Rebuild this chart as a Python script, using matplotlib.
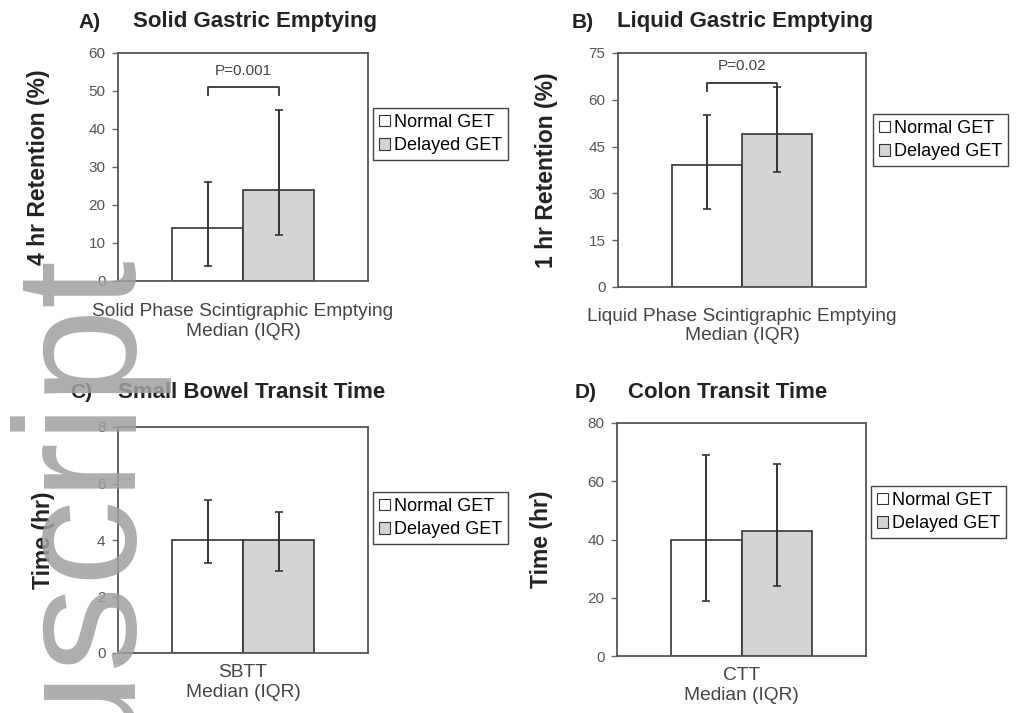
"""
Gastric emptying and transit times by GET group (4 panels).
"""

import matplotlib
matplotlib.use("Agg")
import matplotlib.pyplot as plt
from matplotlib.patches import Patch

plt.rcParams["font.family"] = ["Liberation Sans", "DejaVu Sans"]

groups = ["Normal GET", "Delayed GET"]
bar_colors = ["white", "#d4d4d4"]

# median, lower quartile, upper quartile for each group
solid_median = [14, 24]
solid_q1 = [4, 12]
solid_q3 = [26, 45]

liquid_median = [39, 49]
liquid_q1 = [25, 37]
liquid_q3 = [55, 64]

sbtt_median = [4.0, 4.0]
sbtt_q1 = [3.2, 2.9]
sbtt_q3 = [5.4, 5.0]

ctt_median = [40, 43]
ctt_q1 = [19, 24]
ctt_q3 = [69, 66]

panels = [
    dict(tag="A)", title="Solid Gastric Emptying", ylabel="4 hr Retention (%)",
         xcat="Solid Phase Scintigraphic Emptying\nMedian (IQR)",
         med=solid_median, q1=solid_q1, q3=solid_q3,
         yticks=[0, 10, 20, 30, 40, 50, 60], p="P=0.001", p_y=51, xpad=16),
    dict(tag="B)", title="Liquid Gastric Emptying", ylabel="1 hr Retention (%)",
         xcat="Liquid Phase Scintigraphic Emptying\nMedian (IQR)",
         med=liquid_median, q1=liquid_q1, q3=liquid_q3,
         yticks=[0, 15, 30, 45, 60, 75], p="P=0.02", p_y=65.5, xpad=15),
    dict(tag="C)", title="Small Bowel Transit Time", ylabel="Time (hr)",
         xcat="SBTT\nMedian (IQR)",
         med=sbtt_median, q1=sbtt_q1, q3=sbtt_q3,
         yticks=[0, 2, 4, 6, 8], p=None, p_y=None, xpad=8),
    dict(tag="D)", title="Colon Transit Time", ylabel="Time (hr)",
         xcat="CTT\nMedian (IQR)",
         med=ctt_median, q1=ctt_q1, q3=ctt_q3,
         yticks=[0, 20, 40, 60, 80], p=None, p_y=None, xpad=8),
]

W, H = 1016, 713
# pixel boxes: left, right, top, bottom
boxes = [(118, 368, 53, 281), (618, 866, 53, 287),
         (118, 368, 427, 653), (617, 866, 423, 656)]
tag_pos = [(78, 22), (572, 22), (70, 392), (575, 392)]
title_x = [133, 617, 118, 628]
ylab_x = [50, 558, 55, 553]
leg_pos = [(373, 134), (873, 140), (373, 518), (871, 512)]

fig = plt.figure(figsize=(W / 100, H / 100), dpi=100)
dark = "#333333"
width = 0.284
xs = [-width / 2, width / 2]

for i, pn in enumerate(panels):
    l, r, t, b = boxes[i]
    ax = fig.add_axes([l / W, 1 - b / H, (r - l) / W, (b - t) / H])
    ax.bar(xs, pn["med"], width=width, color=bar_colors,
           edgecolor=dark, linewidth=1.2, zorder=2)
    lo = [m - q for m, q in zip(pn["med"], pn["q1"])]
    hi = [q - m for m, q in zip(pn["med"], pn["q3"])]
    ax.errorbar(xs, pn["med"], yerr=[lo, hi], fmt="none", ecolor=dark,
                elinewidth=1.4, capsize=3, capthick=1.2, zorder=3)
    ax.set_xlim(-0.5, 0.5)
    ax.set_ylim(pn["yticks"][0], pn["yticks"][-1])
    ax.set_yticks(pn["yticks"])
    ax.set_xticks([0])
    ax.set_xticklabels([pn["xcat"]], fontsize=13.8, color="#444444")
    ax.tick_params(axis="x", length=0, pad=pn["xpad"])
    ax.tick_params(axis="y", length=4, width=1, color="#666666",
                   labelsize=11, labelcolor="#555555", pad=5)
    for sp in ax.spines.values():
        sp.set_color("#555555")
        sp.set_linewidth(1.3)
    ax.set_ylabel(pn["ylabel"], fontsize=16.5, fontweight="bold", color="#222222")
    ax.yaxis.set_label_coords((ylab_x[i] - l) / (r - l), 0.5)

    if pn["p"]:
        top = pn["yticks"][-1]
        y = pn["p_y"]
        leg = top * 0.035
        ax.plot([xs[0], xs[0], xs[1], xs[1]], [y - leg, y, y, y - leg],
                color=dark, lw=1.3, zorder=4)
        ax.text(0, y + top * 0.04, pn["p"], ha="center", va="bottom",
                fontsize=11, color="#444444")

    handles = [Patch(facecolor=c, edgecolor=dark, linewidth=0.8) for c in bar_colors]
    lx, ly = leg_pos[i]
    fig.legend(handles, groups, loc="center left",
               bbox_to_anchor=(lx / W, 1 - ly / H), fontsize=13,
               handlelength=0.6, handleheight=0.6, handletextpad=0.2,
               borderpad=0.35, labelspacing=0.35, fancybox=False,
               framealpha=1, edgecolor="#444444", borderaxespad=0)

    tx, ty = tag_pos[i]
    fig.text(tx / W, 1 - ty / H, pn["tag"], fontsize=15, fontweight="bold",
             ha="left", va="center", color="#222222")
    fig.text(title_x[i] / W, 1 - ty / H, pn["title"], fontsize=16,
             fontweight="bold", ha="left", va="center", color="#222222")

# vertical "Author Manuscript" watermark along the left edge
fig.text(172 / W, 1 - 260 / H, "Author Manuscript", rotation=90,
         ha="right", va="top", fontsize=124, color="#a0a0a0", alpha=0.85,
         zorder=10)

fig.savefig("out.png", dpi=100)
